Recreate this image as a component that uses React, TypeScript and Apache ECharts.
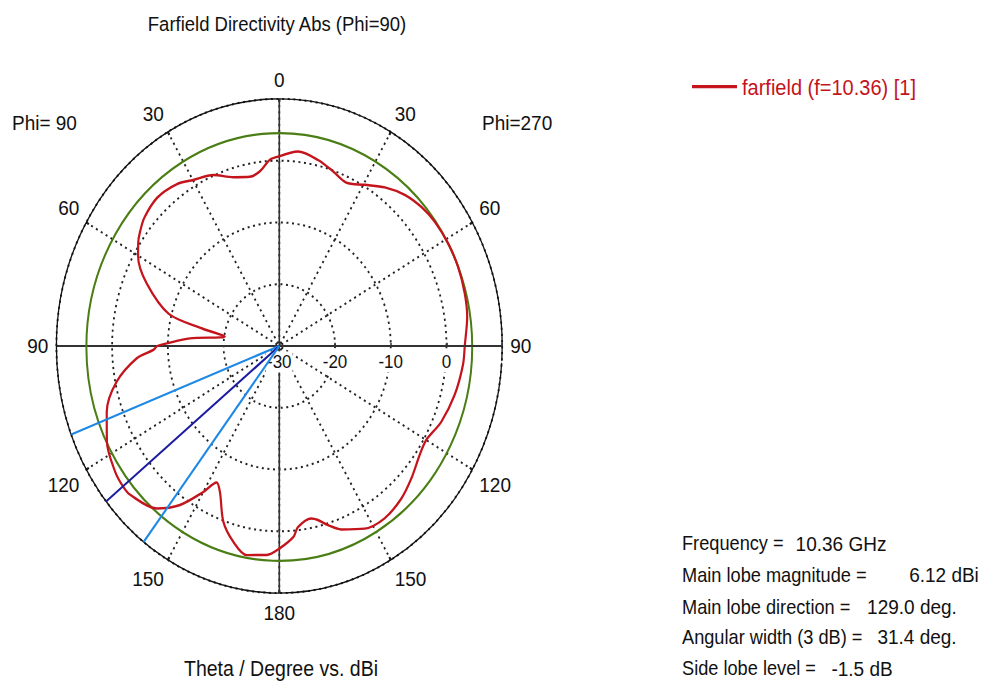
import React, { useEffect, useRef } from "react";
import * as echarts from "echarts";

// ---------------- data ----------------
const titleText = "Farfield Directivity Abs (Phi=90)";
const axisTitleText = "Theta / Degree vs. dBi";
const leftPhiLabel = "Phi= 90";
const rightPhiLabel = "Phi=270";
const seriesName = "farfield (f=10.36) [1]";

// polar angle in degrees, counter-clockwise from the top:
// 0..180 = Phi 90 half (theta = angle), 180..360 = Phi 270 half (theta = 360 - angle)
const curveAngles = [
  0, 3.2, 7.0, 10.9, 16.8, 23.2, 29.9, 35.0, 42.3, 49.4, 53.9, 56.7, 60.2, 66.9, 75.3, 78.5, 81.0,
  85.6, 88.8, 90.0, 91.6, 94.5, 101.2, 109.0, 116.6, 124.6, 129.0, 132.0, 140.1, 145.3, 150.0,
  153.0, 155.7, 160.6, 165.4, 170.2, 176.2, 180.0, 184.7, 186.5, 191.6, 193.8, 196.8, 200.5,
  207.4, 214.1, 221.6, 227.9, 235.0, 240.0, 247.1, 255.9, 264.7, 270.3, 278.0, 284.4, 291.8,
  298.8, 305.8, 311.5, 317.4, 323.6, 329.6, 335.6, 341.1, 347.0, 353.9, 360,
];
const curveDbi = [
  0.7, 0.2, -1.5, -2.1, -1.45, 0.1, 1.0, 2.0, 2.5, 1.9, 1.0, 0.3, -0.8, -4.1, -9.5, -16.0, -20.1,
  -13.9, -9.8, -8.1, -7.4, -4.3, -0.25, 2.75, 4.6, 5.8, 6.1, 6.0, 4.3, 1.3, -2.7,
  -5.2, -4.1, 0.2, 2.75, 4.35, 3.9, 2.8, 1.0, -0.5, -1.5, -1.0, 0.3, 1.7,
  3.3, 3.7, 3.0, 1.95, 0.75, 0.45, 1.55, 2.45, 3.1, 3.3, 4.05, 4.35, 4.55,
  4.55, 4.4, 4.0, 3.25, 1.9, 0.25, -0.95, -0.15, 0.9, 1.65, 0.7,
];

const radiusMin = -30;
const radiusMax = 10;
const radiusStep = 10;
const angleStep = 30;
const greenLevel = 4.62; // reference circle level (dBi)
const beamAngles = [111, 129, 142.5]; // 3 dB edge, main lobe, 3 dB edge

const infoLabels = [
  "Frequency =",
  "Main lobe magnitude =",
  "Main lobe direction =",
  "Angular width (3 dB) =",
  "Side lobe level =",
];
const infoValues = ["10.36 GHz", "6.12 dBi", "129.0 deg.", "31.4 deg.", "-1.5 dB"];

// ---------------- layout / style ----------------
const W = 981;
const H_OUT = 684;
const H = 617;
const SY = H_OUT / H;
const CX = 279.3;
const CY = 346 / SY;
const R = 222.9;
const FONT = '"Liberation Sans", Arial, sans-serif';
const RED = "#c4141c";
const GREEN = "#4a7d14";
const LIGHT_BLUE = "#1e88e5";
const DARK_BLUE = "#1c1ca0";
const INK = "#111";
const beamColors = [LIGHT_BLUE, DARK_BLUE, LIGHT_BLUE];
const infoValueCenter = [841, 944, 912, 917, 862];
const infoRowY = [543.3, 575, 606.7, 636.7, 668.3];

function txt(text: string, x: number, y: number, size: number, align: string, color = INK) {
  return {
    type: "text",
    x,
    y,
    silent: true,
    style: {
      text,
      fill: color,
      fontSize: size,
      fontFamily: FONT,
      textAlign: align,
      align,
      textVerticalAlign: "middle",
      verticalAlign: "middle",
    },
  };
}

export default function App() {
  const ref = useRef<HTMLDivElement>(null);

  useEffect(() => {
    if (!ref.current) return;
    const chart = echarts.init(ref.current, null, { renderer: "svg" });

    const curveData = curveAngles.map((a, i) => [curveDbi[i], a]);

    const beamSeries = beamAngles.map((a, i) => ({
      type: "line",
      coordinateSystem: "polar",
      polarIndex: 0,
      data: [
        [radiusMin, a],
        [radiusMax, a],
      ],
      showSymbol: false,
      symbol: "none",
      silent: true,
      lineStyle: { color: beamColors[i], width: 2 },
      z: 8,
    }));

    const graphics: any[] = [
      txt(titleText, 277, 21.6, 18.5, "center"),
      txt(leftPhiLabel, 12, 123 / SY, 19, "left"),
      txt(rightPhiLabel, 482, 123 / SY, 19, "left"),
      txt(axisTitleText, 281, 668 / SY, 19.5, "center"),
    ];
    infoLabels.forEach((l, i) => {
      graphics.push(txt(l, 682, infoRowY[i] / SY, 18.2, "left"));
      graphics.push(txt(infoValues[i], infoValueCenter[i], infoRowY[i] / SY, 19, "center"));
    });

    const dotted = { color: "#222", width: 1.8, type: [2, 3.6] as any };

    chart.setOption({
      animation: false,
      backgroundColor: "#fff",
      textStyle: { fontFamily: FONT },
      legend: {
        data: [seriesName],
        left: 692,
        top: 86.7 / SY - 11,
        padding: 0,
        icon: "rect",
        itemWidth: 45,
        itemHeight: 3,
        selectedMode: false,
        textStyle: { color: RED, fontSize: 20, fontFamily: FONT, lineHeight: 22 },
      },
      polar: [
        { center: [CX, CY], radius: R },
        { center: [CX, CY], radius: R },
      ],
      angleAxis: [
        {
          polarIndex: 0,
          type: "value",
          min: 0,
          max: 360,
          interval: angleStep,
          startAngle: 90,
          clockwise: false,
          axisLine: { show: true, lineStyle: { color: INK, width: 1.3 } },
          axisTick: { show: true, inside: true, length: 3, lineStyle: { color: INK, width: 2 } },
          axisLabel: {
            show: true,
            margin: 8,
            color: INK,
            fontSize: 19,
            fontFamily: FONT,
            formatter: (v: number) => String(v <= 180 ? v : 360 - v),
          },
          splitLine: { show: true, lineStyle: dotted },
        },
        {
          polarIndex: 1,
          type: "value",
          min: 0,
          max: 360,
          interval: 90,
          startAngle: 0,
          clockwise: false,
          axisLine: { show: false },
          axisTick: { show: false },
          axisLabel: { show: false },
          splitLine: { show: true, lineStyle: { color: "#333", width: 1.6 } },
        },
      ],
      radiusAxis: [
        {
          polarIndex: 0,
          type: "value",
          min: radiusMin,
          max: radiusMax,
          interval: radiusStep,
          axisLine: { show: false },
          axisTick: { show: false },
          axisLabel: { show: false },
          splitLine: { show: true, lineStyle: dotted },
        },
        {
          polarIndex: 1,
          type: "value",
          min: radiusMin,
          max: radiusMax,
          interval: radiusStep,
          z: 6,
          axisLine: { show: true, lineStyle: { color: "#333", width: 1.6 } },
          axisTick: { show: true, length: 3, lineStyle: { color: "#333", width: 1.5 } },
          axisLabel: {
            show: true,
            margin: -14.4,
            verticalAlign: "middle",
            color: INK,
            fontSize: 17,
            fontFamily: FONT,
            backgroundColor: "#fff",
            padding: [1, 1],
            formatter: (v: number) => (v === radiusMax ? "" : String(v)),
          },
          splitLine: { show: false },
        },
      ],
      series: [
        {
          type: "custom",
          coordinateSystem: "polar",
          polarIndex: 0,
          silent: true,
          data: [[greenLevel, 0]],
          renderItem: (params: any, api: any) => {
            const c = api.coord([radiusMin, 0]);
            const p = api.coord([api.value(0), 0]);
            const r = Math.hypot(p[0] - c[0], p[1] - c[1]);
            return {
              type: "circle",
              shape: { cx: c[0], cy: c[1], r },
              style: { fill: "none", stroke: GREEN, lineWidth: 2 },
            };
          },
          z: 3,
        },
        {
          name: seriesName,
          type: "line",
          coordinateSystem: "polar",
          polarIndex: 0,
          data: curveData,
          showSymbol: false,
          symbol: "none",
          smooth: 0.3,
          silent: true,
          lineStyle: { color: RED, width: 2.2 },
          itemStyle: { color: RED },
          z: 4,
        },
        ...beamSeries,
      ],
      graphic: graphics,
    });

    return () => chart.dispose();
  }, []);

  return (
    <div
      style={{
        position: "fixed",
        left: 0,
        top: 0,
        width: W,
        height: H_OUT,
        overflow: "hidden",
        background: "#fff",
      }}
    >
      <div
        ref={ref}
        style={{ width: W, height: H, transform: `scaleY(${SY})`, transformOrigin: "0 0" }}
      />
    </div>
  );
}
